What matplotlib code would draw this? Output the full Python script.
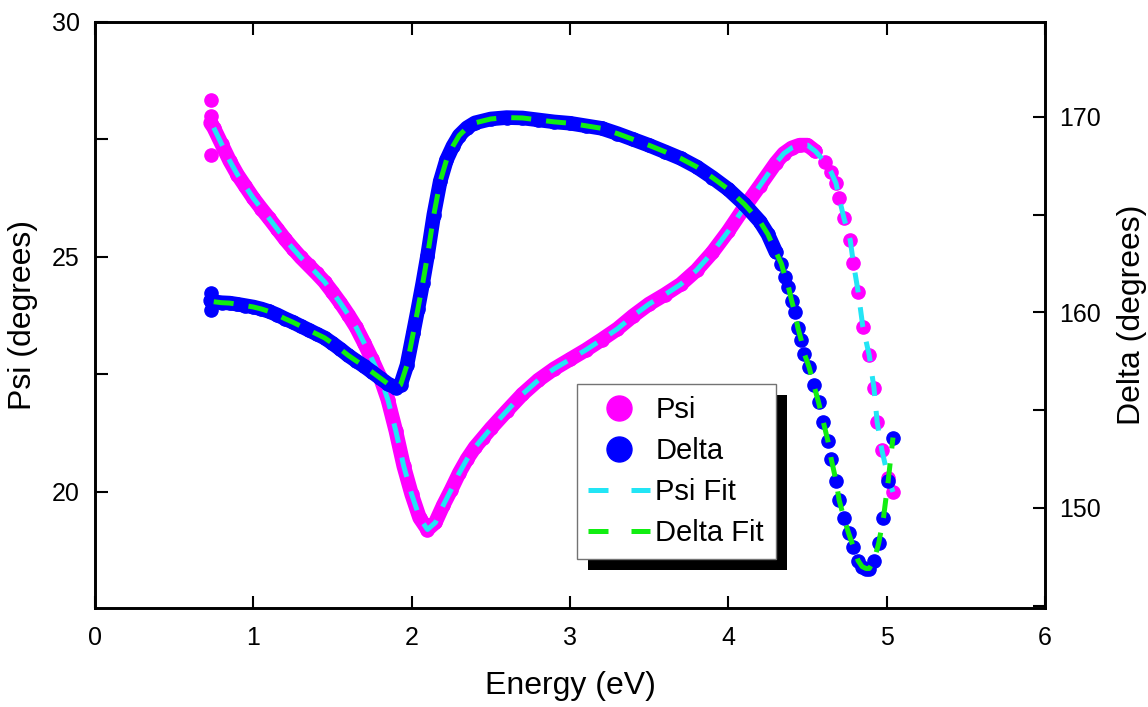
import numpy as np
import matplotlib
matplotlib.use("Agg")
import matplotlib.pyplot as plt
from matplotlib.lines import Line2D
from matplotlib.patches import Rectangle
from matplotlib.transforms import IdentityTransform
from matplotlib.ticker import MultipleLocator

plt.rcParams['font.family'] = ['Liberation Sans Narrow', 'Liberation Sans', 'DejaVu Sans']

# Psi (left axis)
psi_energy = [0.73, 0.75, 0.80, 0.85, 0.90, 0.95, 1.00, 1.05, 1.10, 1.15, 1.20, 1.25,
              1.30, 1.35, 1.40, 1.45, 1.50, 1.55, 1.60, 1.65, 1.70, 1.75, 1.80, 1.85,
              1.90, 1.95, 2.00, 2.05, 2.10, 2.15, 2.20, 2.25, 2.30, 2.35, 2.40, 2.45,
              2.50, 2.60, 2.70, 2.80, 2.90, 3.00, 3.10, 3.20, 3.30, 3.40, 3.50, 3.60,
              3.70, 3.80, 3.90, 4.00, 4.10, 4.20, 4.30, 4.35, 4.40, 4.45, 4.50, 4.55,
              4.61, 4.65, 4.68, 4.70, 4.73, 4.77, 4.79, 4.82, 4.85, 4.89, 4.92, 4.94,
              4.97, 5.01, 5.04]
psi = [27.85, 27.75, 27.40, 27.05, 26.75, 26.50, 26.25, 26.03, 25.82, 25.60, 25.38, 25.18,
       24.99, 24.82, 24.65, 24.47, 24.25, 24.02, 23.77, 23.50, 23.17, 22.82, 22.45, 21.96,
       21.30, 20.55, 19.95, 19.45, 19.20, 19.35, 19.72, 20.05, 20.40, 20.70, 20.95, 21.15,
       21.35, 21.72, 22.08, 22.38, 22.62, 22.82, 23.02, 23.24, 23.47, 23.75, 24.00, 24.20,
       24.42, 24.72, 25.10, 25.55, 26.05, 26.52, 27.00, 27.20, 27.32, 27.38, 27.38, 27.25,
       27.02, 26.80, 26.57, 26.26, 25.83, 25.36, 24.87, 24.26, 23.51, 22.91, 22.21, 21.49,
       20.89, 20.30, 20.00]
# scattered first points
psi_start_energy = [0.73, 0.735, 0.73]
psi_start = [28.34, 28.00, 27.17]

# Delta (right axis)
delta_energy = [0.73, 0.75, 0.80, 0.85, 0.90, 0.95, 1.00, 1.05, 1.10, 1.15, 1.20, 1.25,
                1.30, 1.35, 1.40, 1.45, 1.50, 1.55, 1.60, 1.65, 1.70, 1.75, 1.80, 1.85,
                1.90, 1.93, 1.97, 2.01, 2.04, 2.07, 2.10, 2.14, 2.18, 2.22, 2.26, 2.30,
                2.35, 2.40, 2.50, 2.60, 2.70, 2.80, 2.90, 3.00, 3.10, 3.20, 3.30, 3.40,
                3.50, 3.60, 3.70, 3.80, 3.90, 4.00, 4.10, 4.20, 4.25, 4.30,
                4.335, 4.36, 4.38, 4.40, 4.42, 4.44, 4.46, 4.48, 4.51, 4.54, 4.57, 4.60,
                4.63, 4.65, 4.68, 4.70, 4.73, 4.76, 4.79, 4.82, 4.845, 4.87, 4.89, 4.92,
                4.95, 4.98, 5.01, 5.04]
delta = [160.60, 160.55, 160.50, 160.48, 160.42, 160.35, 160.28, 160.18, 160.05, 159.88, 159.68, 159.50,
         159.30, 159.10, 158.90, 158.70, 158.42, 158.12, 157.80, 157.52, 157.25, 156.95, 156.65, 156.35,
         156.15, 156.30, 157.30, 158.95, 160.20, 161.50, 162.90, 165.00, 166.70, 167.80, 168.50, 169.05,
         169.45, 169.70, 169.90, 169.97, 169.95, 169.85, 169.75, 169.68, 169.55, 169.42, 169.15, 168.85,
         168.55, 168.22, 167.88, 167.45, 166.90, 166.30, 165.55, 164.65, 164.00, 163.10,
         162.50, 161.80, 161.30, 160.60, 160.00, 159.20, 158.60, 157.90, 157.20, 156.30, 155.40, 154.40,
         153.40, 152.50, 151.40, 150.40, 149.50, 148.70, 148.00, 147.30, 147.00, 146.90, 146.90, 147.30,
         148.20, 149.50, 151.40, 153.60]
delta_start_energy = [0.73, 0.73, 0.73]
delta_start = [161.00, 160.60, 160.15]

PSI_C = '#ff00ff'
DELTA_C = '#0000ff'
PSI_FIT_C = '#22e5f5'
DELTA_FIT_C = '#11ee11'

fig = plt.figure(figsize=(11.48, 7.07), dpi=100)
ax = fig.add_axes([0.08275, 0.1400, 0.8275, 0.8289])
ax2 = ax.twinx()

pe = np.array(psi_energy); pv = np.array(psi)
de = np.array(delta_energy); dv = np.array(delta)

# dense part of the measurement looks like a solid band of dots
dense_p = pe <= 4.56
dense_d = de <= 4.31
ax.plot(pe[dense_p], pv[dense_p], color=PSI_C, lw=10.5, solid_capstyle='round', zorder=2)
ax.plot(pe, pv, 'o', color=PSI_C, ms=9.5, zorder=2)
ax.plot(psi_start_energy, psi_start, 'o', color=PSI_C, ms=9.5, zorder=2)
ax.plot(pe[1:], pv[1:], color=PSI_FIT_C, lw=3.6, dashes=(4, 3), zorder=3)

ax2.plot(de[dense_d], dv[dense_d], color=DELTA_C, lw=10.5, solid_capstyle='round', zorder=2)
ax2.plot(de, dv, 'o', color=DELTA_C, ms=9.5, zorder=2)
ax2.plot(delta_start_energy, delta_start, 'o', color=DELTA_C, ms=9.5, zorder=2)
ax2.plot(de[1:], dv[1:], color=DELTA_FIT_C, lw=3.6, dashes=(4, 3), zorder=3)

ax.set_xlim(0, 6)
ax.set_ylim(17.53, 30)
ax2.set_ylim(144.88, 174.86)

ax.xaxis.set_major_locator(MultipleLocator(1))
ax.yaxis.set_major_locator(MultipleLocator(5))
ax.yaxis.set_minor_locator(MultipleLocator(2.5))
ax2.yaxis.set_major_locator(MultipleLocator(10))
ax2.yaxis.set_minor_locator(MultipleLocator(5))

for a in (ax, ax2):
    for s in a.spines.values():
        s.set_linewidth(1.9)
ax.tick_params(axis='x', which='major', direction='in', top=True, length=9, width=1.5,
               labelsize=18, pad=13)
ax.tick_params(axis='y', which='both', direction='in', right=False, length=9, width=1.5,
               labelsize=18, pad=11)
ax2.tick_params(axis='y', which='both', direction='in', length=9, width=1.5,
                labelsize=18, pad=10)

ax.set_xlabel('Energy (eV)', fontsize=23, labelpad=15)
ax.set_ylabel('Psi (degrees)', fontsize=23, labelpad=10)
ax2.set_ylabel('Delta (degrees)', fontsize=23, labelpad=12)

handles = [
    Line2D([], [], ls='none', marker='o', color=PSI_C, ms=18),
    Line2D([], [], ls='none', marker='o', color=DELTA_C, ms=18),
    Line2D([], [], color=PSI_FIT_C, lw=3.6, dashes=(4, 4.6)),
    Line2D([], [], color=DELTA_FIT_C, lw=3.6, dashes=(4, 4.6)),
]
labels = ['Psi', 'Delta', 'Psi Fit', 'Delta Fit']
leg = ax2.legend(handles, labels, loc='upper left', bbox_to_anchor=(0.507, 0.382),
                 fontsize=21, frameon=True, fancybox=False, framealpha=1,
                 edgecolor='0.45', borderpad=0.4, handlelength=2.1,
                 handletextpad=0.2, labelspacing=0.45, borderaxespad=0)
leg.get_frame().set_linewidth(1.0)
leg.set_zorder(6)

# solid black drop shadow like the original legend box
fig.canvas.draw()
bb = leg.get_window_extent()
shadow = Rectangle((bb.x0 + 11, bb.y0 - 11), bb.width, bb.height,
                   transform=IdentityTransform(), facecolor='black',
                   edgecolor='none', zorder=5)
ax2.add_artist(shadow)

fig.savefig('out.png', dpi=100)
